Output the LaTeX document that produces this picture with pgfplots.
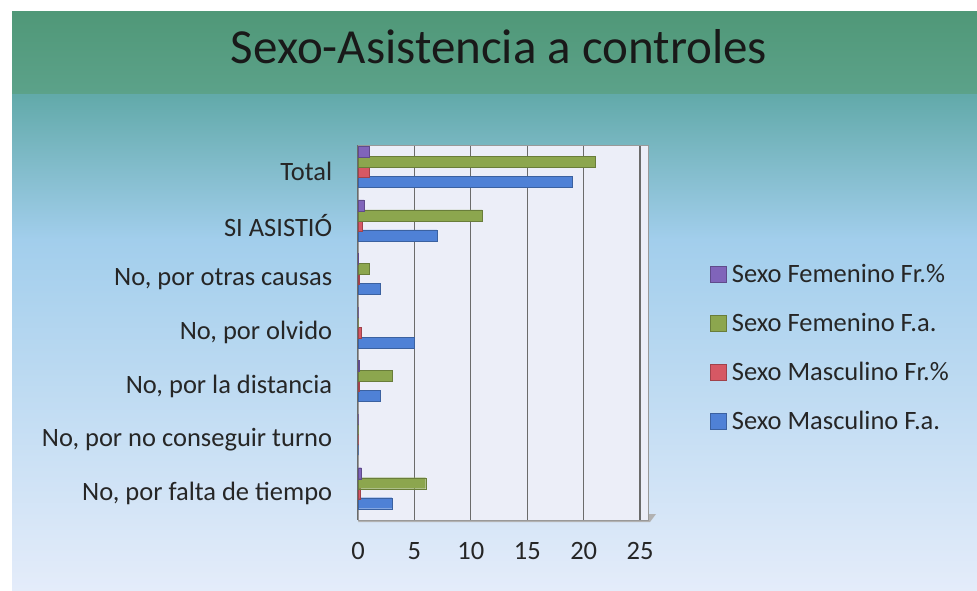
\documentclass[border=0pt]{standalone}
\usepackage{fontspec}
\setmainfont{Carlito}
\usepackage{pgfplots}
\pgfplotsset{compat=1.18}
\definecolor{cblue}{RGB}{79,129,214}
\definecolor{cred}{RGB}{214,88,100}
\definecolor{cgreen}{RGB}{140,166,78}
\definecolor{cpurple}{RGB}{128,100,186}
\definecolor{bgA}{RGB}{80,152,120}
\definecolor{bgB}{RGB}{92,162,138}
\definecolor{bgC}{RGB}{98,170,170}
\definecolor{bgD}{RGB}{162,206,236}
\definecolor{bgE}{RGB}{228,236,250}
\definecolor{wallc}{RGB}{236,238,248}
\begin{document}
\begin{tikzpicture}[x=1pt,y=1pt]
\useasboundingbox (0,0) rectangle (977,590);
\fill[white] (0,0) rectangle (977,590);
\shade[top color=bgA, bottom color=bgB] (12,495) rectangle (977,578);
\shade[top color=bgC, bottom color=bgD] (12,350) rectangle (977,495);
\shade[top color=bgD, bottom color=bgE] (12,0) rectangle (977,350);
\node[font=\fontsize{49}{55}\selectfont, text=black!90] at (499,543) {Sexo-Asistencia a controles};
\fill[black!30] (358,68) -- (650,68) -- (656,76) -- (364,76) -- cycle;
\begin{axis}[
  at={(358pt,70pt)}, anchor=south west,
  scale only axis, width=290pt, height=375pt,
  xbar, bar width=11pt,
  xmin=0, xmax=25.7, ymin=-0.5, ymax=6.5,
  ytick={0,1,2,3,4,5,6},
  yticklabels={{No, por falta de tiempo},{No, por no conseguir turno},{No, por la distancia},{No, por olvido},{No, por otras causas},{SI ASISTIÓ},{Total}},
  xtick={0,5,10,15,20,25},
  xmajorgrids,
  grid style={draw=black!58, line width=1.3pt},
  axis background/.style={fill=wallc},
  axis line style={draw=black!40, line width=1pt},
  tick style={draw=none},
  ticklabel style={font=\fontsize{26.5}{30}\selectfont, text=black!85},
  yticklabel style={xshift=-18pt},
  xticklabel style={yshift=-19pt},
  /pgf/number format/assume math mode=true,
  legend style={at={(1.214,0.687)}, anchor=north west, draw=none, fill=none,
    font=\fontsize{26.5}{30}\selectfont, row sep=25pt, inner sep=0pt,
    nodes={inner sep=2pt, text=black!85},
    /tikz/every odd column/.style={column sep=3pt}},
  legend cell align=left,
  reverse legend,
  legend image code/.code={\draw[#1,/tikz/.cd,line width=0.6pt] (0pt,-8pt) rectangle (16pt,8pt);},
]
\addplot[fill=cblue, draw=cblue!75!black, bar shift=-10pt] coordinates {(3,0) (0,1) (2,2) (5,3) (2,4) (7,5) (19,6)};
\addplot[fill=cred, draw=cred!75!black, bar shift=0pt] coordinates {(0.16,0) (0,1) (0.11,2) (0.26,3) (0.11,4) (0.37,5) (1,6)};
\addplot[fill=cgreen, draw=cgreen!75!black, bar shift=10pt] coordinates {(6,0) (0,1) (3,2) (0,3) (1,4) (11,5) (21,6)};
\addplot[fill=cpurple, draw=cpurple!75!black, bar shift=20pt] coordinates {(0.29,0) (0,1) (0.14,2) (0,3) (0.05,4) (0.52,5) (1,6)};
\legend{Sexo Masculino F.a., Sexo Masculino Fr.\%, Sexo Femenino F.a., Sexo Femenino Fr.\%}
\end{axis}
\end{tikzpicture}
\end{document}
